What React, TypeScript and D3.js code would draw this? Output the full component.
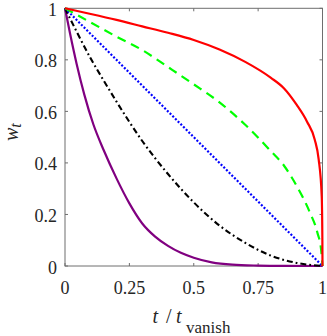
import React from 'react';
import * as d3 from 'd3';

// values
const redT = [0, 0.1, 0.2, 0.3, 0.4, 0.5, 0.6, 0.7, 0.8, 0.85, 0.9, 0.94, 0.97, 0.985, 0.997, 0.9995, 1];
const redW = [1, 0.978, 0.955, 0.93, 0.905, 0.877, 0.84, 0.792, 0.73, 0.69, 0.625, 0.56, 0.49, 0.415, 0.27, 0.1, 0];

const greenT = [0, 0.1, 0.2, 0.3, 0.4, 0.5, 0.6, 0.7, 0.8, 0.85, 0.9, 0.95, 0.98, 0.995, 1];
const greenW = [1, 0.945, 0.89, 0.838, 0.772, 0.705, 0.635, 0.548, 0.445, 0.39, 0.31, 0.21, 0.13, 0.06, 0];

const blueT = [0, 0.25, 0.5, 0.75, 1];
const blueW = [1, 0.75, 0.5, 0.25, 0];

const blackT = [0, 0.05, 0.1, 0.15, 0.2, 0.3, 0.4, 0.5, 0.6, 0.7, 0.8, 0.9, 1];
const blackW = [1, 0.9, 0.805, 0.72, 0.638, 0.485, 0.357, 0.247, 0.157, 0.09, 0.04, 0.012, 0];

const purpleT = [0, 0.02, 0.045, 0.075, 0.11, 0.15, 0.2, 0.25, 0.3, 0.35, 0.4, 0.45, 0.5, 0.57, 0.65, 0.75, 0.85, 1];
const purpleW = [1, 0.9, 0.785, 0.665, 0.55, 0.45, 0.34, 0.243, 0.165, 0.114, 0.078, 0.051, 0.032, 0.014, 0.005, 0.0015, 0.0003, 0];

const xTicks = [0, 0.25, 0.5, 0.75, 1];
const xTickLabels = ['0', '0.25', '0.5', '0.75', '1'];
const yTicks = [0, 0.2, 0.4, 0.6, 0.8, 1];
const yTickLabels = ['0', '0.2', '0.4', '0.6', '0.8', '1'];

const width = 327;
const height = 336;
const marginLeft = 65;
const marginRight = 4.5;
const marginTop = 8.3;
const marginBottom = 70;

const font = "'Liberation Serif', 'Times New Roman', Times, 'DejaVu Serif', serif";
const axisColor = '#6e6e6e';
const textColor = '#262626';

const App = () => {
  const x = d3.scaleLinear([0, 1], [marginLeft, width - marginRight]);
  const y = d3.scaleLinear([0, 1], [height - marginBottom, marginTop]);

  const line = d3.line<[number, number]>()
    .x(d => x(d[0]))
    .y(d => y(d[1]))
    .curve(d3.curveMonotoneX);

  const zip = (ts: number[], ws: number[]) => ts.map((t, i) => [t, ws[i]] as [number, number]);

  // drawn back to front
  const series = [
    { pts: zip(purpleT, purpleW), color: '#800080', dash: null, w: 2.2 },
    { pts: zip(blackT, blackW), color: '#000000', dash: '6,3,1.8,3', w: 2.1 },
    { pts: zip(blueT, blueW), color: '#0000ff', dash: '2,1.8', w: 2.2 },
    { pts: zip(greenT, greenW), color: '#00ff00', dash: '9,6', w: 2.2 },
    { pts: zip(redT, redW), color: '#ff0000', dash: null, w: 2.2 },
  ];

  const x0 = x(0), x1 = x(1), y0 = y(0), y1 = y(1);
  const tick = 3;
  const txt = { fontFamily: font, fill: textColor };

  return (
    <svg
      width={width}
      height={height}
      viewBox={`0 0 ${width} ${height}`}
      style={{ position: 'absolute', left: 0, top: 0, background: '#fff' }}
    >
      {/* box */}
      <rect x={x0} y={y1} width={x1 - x0} height={y0 - y1} fill="none" stroke={axisColor} strokeWidth={1} />

      {/* inward ticks on all four sides */}
      {xTicks.map(t => (
        <g key={`xt${t}`} stroke={axisColor}>
          <line x1={x(t)} x2={x(t)} y1={y0} y2={y0 - tick} />
          <line x1={x(t)} x2={x(t)} y1={y1} y2={y1 + tick} />
        </g>
      ))}
      {yTicks.map(t => (
        <g key={`yt${t}`} stroke={axisColor}>
          <line x1={x0} x2={x0 + tick} y1={y(t)} y2={y(t)} />
          <line x1={x1} x2={x1 - tick} y1={y(t)} y2={y(t)} />
        </g>
      ))}

      {/* tick labels */}
      {xTicks.map((t, i) => (
        <text key={`xl${t}`} x={x(t)} y={y0 + 28} textAnchor="middle" fontSize={18} style={txt}>
          {xTickLabels[i]}
        </text>
      ))}
      {yTicks.map((t, i) => (
        <text key={`yl${t}`} x={x0 - 8} y={y(t) + 7.5} textAnchor="end" fontSize={18} style={txt}>
          {yTickLabels[i]}
        </text>
      ))}

      {/* curves */}
      {series.map((s, i) => (
        <path
          key={i}
          d={line(s.pts) ?? ''}
          fill="none"
          stroke={s.color}
          strokeWidth={s.w}
          strokeDasharray={s.dash ?? undefined}
        />
      ))}

      {/* axis titles */}
      <text y={322.5} fontSize={20} style={txt}>
        <tspan x={152.5} fontStyle="italic">t</tspan>
        <tspan x={166}>/</tspan>
        <tspan x={176} fontStyle="italic">t</tspan>
        <tspan x={186} dy={10} fontSize={17}>vanish</tspan>
      </text>
      <text transform="translate(17.5,141) rotate(-90)" fontSize={20} style={txt}>
        <tspan fontStyle="italic">w</tspan>
        <tspan dy={3.5} fontSize={16} fontStyle="italic">t</tspan>
      </text>
    </svg>
  );
};

export default App;
